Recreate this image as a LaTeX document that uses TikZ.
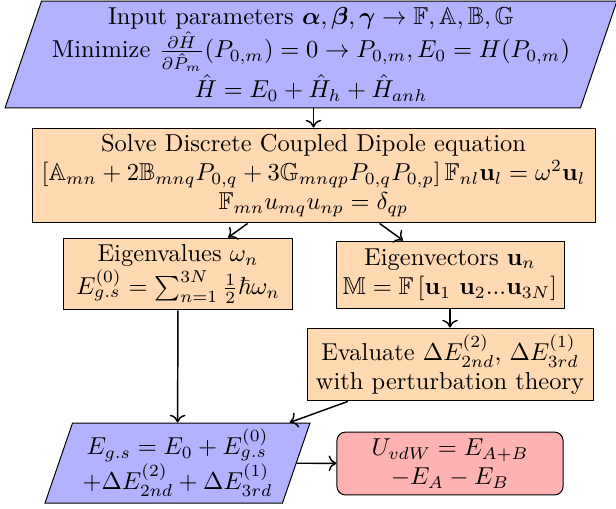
\documentclass[tikz,border=0pt]{standalone}
\usepackage{amsmath,amssymb}
\usetikzlibrary{shapes.geometric,arrows.meta}
\begin{document}
\begin{tikzpicture}[x=0.4087pt,y=-0.4087pt,
  box/.style={draw, fill=orange!30, align=center, inner sep=2pt},
  para/.style={draw, fill=blue!30, align=center, trapezium, trapezium left angle=70.5, trapezium right angle=109.5, trapezium stretches body, inner sep=2pt},
  res/.style={draw, fill=red!30, align=center, rounded corners=3.5pt, inner sep=2pt},
  arr/.style={-{To[length=3.2pt,width=6.4pt]}, semithick}]
\useasboundingbox (0,0) rectangle (616,508);
\node[para, minimum width=250.1pt, minimum height=43.7pt] (top) at (311,54.5)
  {Input parameters $\boldsymbol{\alpha},\boldsymbol{\beta},\boldsymbol{\gamma}\rightarrow\mathbb{F},\mathbb{A},\mathbb{B},\mathbb{G}$\\
   Minimize $\frac{\partial\hat{H}}{\partial\hat{P}_m}(P_{0,m})=0\rightarrow P_{0,m},E_0=H(P_{0,m})$\\
   $\hat{H}=E_0+\hat{H}_h+\hat{H}_{anh}$};
\node[box, minimum width=230.1pt, minimum height=38.8pt] (solve) at (313.5,175.5)
  {Solve Discrete Coupled Dipole equation\\
   $\left[\mathbb{A}_{mn}+2\mathbb{B}_{mnq}P_{0,q}+3\mathbb{G}_{mnqp}P_{0,q}P_{0,p}\right]\mathbb{F}_{nl}\mathbf{u}_l=\omega^2\mathbf{u}_l$\\
   $\mathbb{F}_{mn}u_{mq}u_{np}=\delta_{qp}$};
\node[box, minimum width=93.2pt, minimum height=29.4pt] (eigval) at (178,274)
  {Eigenvalues $\omega_n$\\
   $E^{(0)}_{g.s}=\sum_{n=1}^{3N}\frac{1}{2}\hbar\omega_n$};
\node[box, minimum width=93.2pt, minimum height=27.4pt] (eigvec) at (450,274.5)
  {Eigenvectors $\mathbf{u}_n$\\
   $\mathbb{M}=\mathbb{F}\left[\mathbf{u}_1\ \mathbf{u}_2...\mathbf{u}_{3N}\right]$};
\node[box, minimum width=116.9pt, minimum height=29.8pt] (eval) at (450,364.5)
  {Evaluate $\Delta E^{(2)}_{2nd}$, $\Delta E^{(1)}_{3rd}$\\
   with perturbation theory};
\node[para, minimum width=108.3pt, minimum height=32.7pt] (egs) at (177.5,463)
  {$E_{g.s}=E_0+E^{(0)}_{g.s}$\\
   $+\Delta E^{(2)}_{2nd}+\Delta E^{(1)}_{3rd}$};
\node[res, minimum width=92.4pt, minimum height=25.7pt] (uvdw) at (450,463.5)
  {$U_{vdW}=E_{A+B}$\\
   $-E_A-E_B$};
\draw[arr] (top.south -| solve.north) -- (solve.north);
\draw[arr] (solve) -- (eigval);
\draw[arr] (solve) -- (eigvec);
\draw[arr] (eigvec) -- (eval);
\draw[arr] (eigval) -- (egs);
\draw[arr] (eval) -- (egs);
\draw[arr] (egs) -- (uvdw);
\end{tikzpicture}
\end{document}
